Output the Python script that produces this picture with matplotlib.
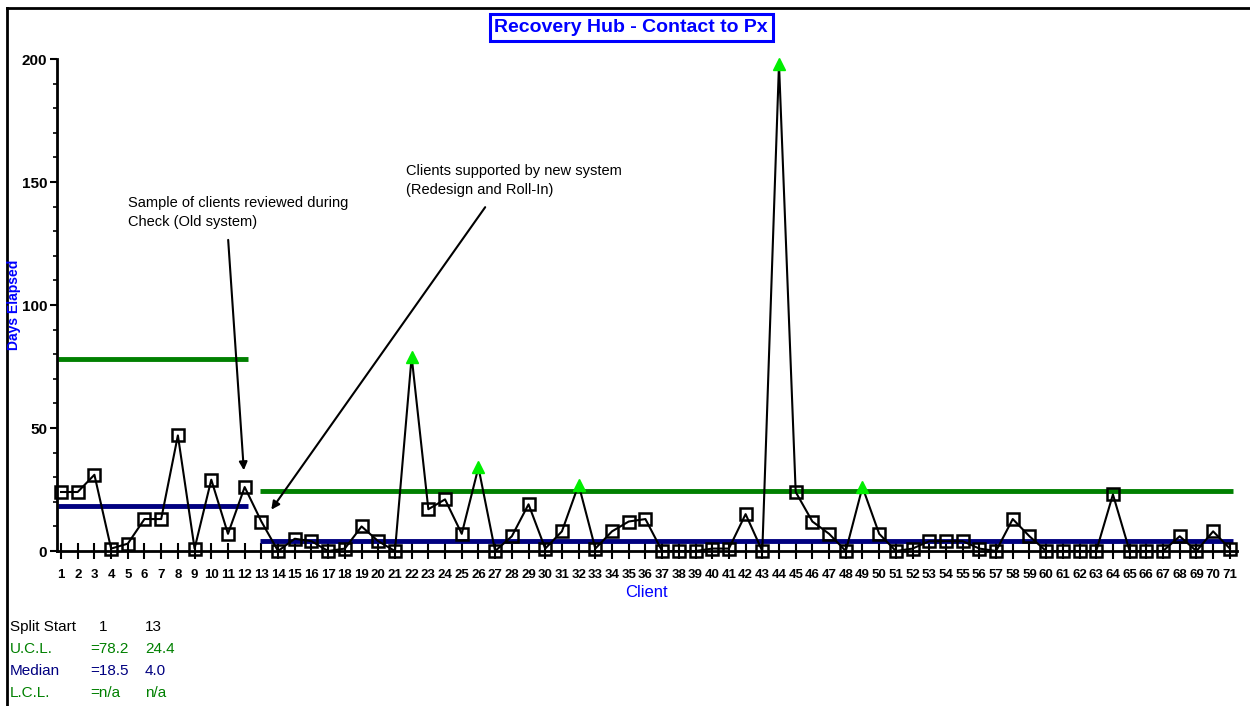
import matplotlib
matplotlib.use('Agg')
import matplotlib.pyplot as plt
from matplotlib.lines import Line2D
from matplotlib.ticker import MultipleLocator

plt.rcParams['font.family'] = ['Liberation Sans', 'DejaVu Sans']

clients = list(range(1, 72))
days = [24, 24, 31, 1, 3, 13, 13, 47, 1, 29, 7, 26,
        12, 0, 5, 4, 0, 1, 10, 4, 0, 79, 17, 21, 7, 34, 0, 6, 19, 1,
        8, 27, 1, 8, 12, 13, 0, 0, 0, 1, 1, 15, 0, 198, 24, 12, 7, 0,
        26, 7, 0, 1, 4, 4, 4, 1, 0, 13, 6, 0, 0, 0, 0, 23, 0, 0, 0, 6,
        0, 8, 1]

split_start = [1, 13]
ucl = [78.2, 24.4]
median = [18.5, 4.0]
lcl = ['n/a', 'n/a']

green = '#008000'
navy = '#000080'
blue = '#0000ff'


def main():
    fig = plt.figure(figsize=(12.5, 7.06), dpi=100)
    ax = fig.add_axes([0.0456, 0.2195, 0.9436, 0.6969])

    # control limits per split
    segs = [(0.8, 12.2), (12.9, 71.2)]
    for (x0, x1), u, m in zip(segs, ucl, median):
        ax.plot([x0, x1], [u, u], color=green, lw=3.5, solid_capstyle='butt', zorder=2)
        ax.plot([x0, x1], [m, m], color=navy, lw=3.5, solid_capstyle='butt', zorder=2)

    ax.plot(clients, days, color='black', lw=1.5, zorder=3)

    # points above the upper limit get a green triangle
    lim = [ucl[0] if c < split_start[1] else ucl[1] for c in clients]
    out_x = [c for c, d, l in zip(clients, days, lim) if d > l]
    out_y = [d for c, d, l in zip(clients, days, lim) if d > l]
    in_x = [c for c, d, l in zip(clients, days, lim) if d <= l]
    in_y = [d for c, d, l in zip(clients, days, lim) if d <= l]
    ax.plot(in_x, in_y, ls='none', marker='s', ms=9, mfc='none', mec='black', mew=1.8,
            zorder=4, clip_on=False)
    ax.plot(out_x, out_y, ls='none', marker='^', ms=9, color='#00ee00', mec='#00ee00',
            zorder=4, clip_on=False)

    ax.set_xlim(0.76, 71.4)
    ax.set_ylim(0, 200)
    for s in ['top', 'right']:
        ax.spines[s].set_visible(False)
    ax.spines['left'].set_linewidth(2)
    ax.spines['bottom'].set_linewidth(2)

    ax.set_xticks(clients)
    ax.set_xticklabels([str(c) for c in clients], fontsize=9.5, fontweight='bold')
    ax.tick_params(axis='x', direction='inout', length=12, width=1.5, pad=7)
    ax.yaxis.set_major_locator(MultipleLocator(50))
    ax.yaxis.set_minor_locator(MultipleLocator(10))
    ax.tick_params(axis='y', which='major', length=5, width=1.5, labelsize=11, pad=2)
    ax.tick_params(axis='y', which='minor', length=3, width=1.2)
    for t in ax.get_yticklabels():
        t.set_fontweight('bold')

    ax.set_xlabel('Client', color=blue, fontsize=12, labelpad=3)
    fig.text(0.0115, 0.568, 'Days Elapsed', rotation=90, color=blue, fontsize=10,
             fontweight='bold', ha='center', va='center')

    fig.text(0.505, 0.961, 'Recovery Hub - Contact to Px', color=blue, fontsize=14,
             fontweight='bold', ha='center', va='center',
             bbox=dict(boxstyle='square,pad=0.25', fc='white', ec=blue, lw=2.2))

    arrow = dict(arrowstyle='-|>', color='black', lw=1.5, mutation_scale=12)
    ax.text(5.0, 144.5, 'Sample of clients reviewed during\nCheck (Old system)',
            fontsize=10.5, ha='left', va='top', linespacing=1.5)
    ax.annotate('', xy=(11.96, 31.7), xytext=(11.0, 127.6), arrowprops=arrow)
    ax.text(21.66, 157.5, 'Clients supported by new system\n(Redesign and Roll-In)',
            fontsize=10.5, ha='left', va='top', linespacing=1.5)
    ax.annotate('', xy=(13.5, 15.9), xytext=(26.5, 140.7), arrowprops=arrow)

    # stats table
    rows = [('Split Start', [str(s) for s in split_start], 'black'),
            ('U.C.L.', ['=%.1f' % ucl[0], '%.1f' % ucl[1]], green),
            ('Median', ['=%.1f' % median[0], '%.1f' % median[1]], navy),
            ('L.C.L.', ['=' + lcl[0], lcl[1]], green)]
    ys = [627, 649, 671, 693]
    for (name, vals, col), y in zip(rows, ys):
        fy = 1 - y / 706
        fig.text(10 / 1250, fy, name, color=col, fontsize=11, va='center')
        if name == 'Split Start':
            fig.text(103 / 1250, fy, vals[0], color=col, fontsize=11, va='center', ha='center')
        else:
            fig.text(90 / 1250, fy, vals[0], color=col, fontsize=11, va='center')
        fig.text(145 / 1250, fy, vals[1], color=col, fontsize=11, va='center')

    # outer frame (top and left only)
    fig.add_artist(Line2D([7 / 1250, 7 / 1250], [0, 1 - 8 / 706], color='black', lw=2))
    fig.add_artist(Line2D([7 / 1250, 1], [1 - 8 / 706, 1 - 8 / 706], color='black', lw=2))

    fig.savefig('out.png', dpi=100)


if __name__ == '__main__':
    main()
